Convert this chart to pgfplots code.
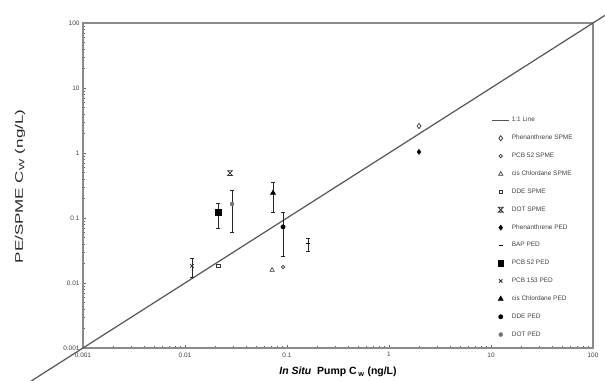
\documentclass[border=0pt]{standalone}
\usepackage{pgfplots}
\pgfplotsset{compat=1.18}
\usepackage{fontspec}
\setmainfont{Liberation Sans}
\usepackage{graphicx}
\definecolor{lnc}{HTML}{555555}
\definecolor{axc}{HTML}{8A8A8A}
\definecolor{mk}{HTML}{333333}
\pgfdeclareplotmark{hourglass}{%
  \pgfpathmoveto{\pgfqpoint{-\pgfplotmarksize}{\pgfplotmarksize}}%
  \pgfpathlineto{\pgfqpoint{\pgfplotmarksize}{\pgfplotmarksize}}%
  \pgfpathlineto{\pgfqpoint{-\pgfplotmarksize}{-\pgfplotmarksize}}%
  \pgfpathlineto{\pgfqpoint{\pgfplotmarksize}{-\pgfplotmarksize}}%
  \pgfpathclose\pgfusepathqstroke}
\begin{document}
\begin{tikzpicture}
\begin{axis}[name=ax, scale only axis, width=510bp, height=325bp,
  xmode=log, ymode=log, xmin=0.001, xmax=100, ymin=0.001, ymax=100,
  clip=false,
  axis line style={draw=axc, line width=1.4bp},
  xtick={0.001,0.01,0.1,1,10,100}, xticklabels={0.001,0.01,0.1,1,10,100},
  ytick={0.001,0.01,0.1,1,10,100}, yticklabels={0.001,0.01,0.1,1,10,100},
  minor xtick={0.002,0.003,0.004,0.005,0.006,0.007,0.008,0.009,0.02,0.03,0.04,0.05,0.06,0.07,0.08,0.09,0.2,0.3,0.4,0.5,0.6,0.7,0.8,0.9,2,3,4,5,6,7,8,9,20,30,40,50,60,70,80,90},
  minor ytick={0.002,0.003,0.004,0.005,0.006,0.007,0.008,0.009,0.02,0.03,0.04,0.05,0.06,0.07,0.08,0.09,0.2,0.3,0.4,0.5,0.6,0.7,0.8,0.9,2,3,4,5,6,7,8,9,20,30,40,50,60,70,80,90},
  xtick pos=left, ytick pos=left, tick align=inside,
  major tick length=3bp, minor tick length=2bp,
  tick style={draw=black!60, line width=0.6bp},
  ticklabel style={font=\fontsize{6.5}{7.5}\selectfont, text=black!75},
  /pgf/number format/assume math mode=true,
  xticklabel style={yshift=-1bp},
  xlabel={\textbf{\textit{In Situ}\ \ Pump C\,\textsubscript{w} (ng/L)}},
  xlabel style={at={(axis description cs:0.5,-0.074)}, anchor=center, font=\fontsize{10.5}{12}\selectfont},
  ylabel={\scalebox{1.55}[1]{PE/SPME C\textsubscript{W} (ng/L)}},
  ylabel style={at={(axis description cs:-0.1235,0.497)}, anchor=center, font=\fontsize{11}{13}\selectfont, text=black!85},
  legend style={at={(rel axis cs:0.795,0.723)}, anchor=north west, draw=none, fill=none,
    font=\fontsize{6.5}{7}\selectfont, text=black!75, row sep=7.8bp},
  legend cell align=left,
]
% 1:1 line
\addplot[lnc, line width=1.2bp] coordinates {(0.0003,0.0003) (140,140)};
\addlegendentry{1:1 Line}
% error bars
\addplot[black!85, line width=0.7bp, mark=-, mark size=2.2bp, forget plot] coordinates {(0.161,0.031) (0.161,0.049)};
\addplot[black!85, line width=0.7bp, mark=-, mark size=2.2bp, forget plot] coordinates {(0.0211,0.070) (0.0211,0.170)};
\addplot[black!85, line width=0.7bp, mark=-, mark size=2.2bp, forget plot] coordinates {(0.0117,0.0124) (0.0117,0.0243)};
\addplot[black!85, line width=0.7bp, mark=-, mark size=2.2bp, forget plot] coordinates {(0.073,0.124) (0.073,0.358)};
\addplot[black!85, line width=0.7bp, mark=-, mark size=2.2bp, forget plot] coordinates {(0.0914,0.026) (0.0914,0.124)};
\addplot[black!85, line width=0.7bp, mark=-, mark size=2.2bp, forget plot] coordinates {(0.0289,0.061) (0.0289,0.27)};
% markers
\addplot[only marks, mark=diamond, mark size=2.6bp, mark options={draw=mk, fill=white, line width=0.7bp}] coordinates {(1.97,2.6)};
\addlegendentry{Phenanthrene SPME}
\addplot[only marks, mark=o, mark size=1.7bp, mark options={draw=mk, fill=white, line width=0.7bp}] coordinates {(0.0914,0.0176)};
\addlegendentry{PCB 52 SPME}
\addplot[only marks, mark=triangle, mark size=2.5bp, mark options={draw=mk, fill=white, line width=0.6bp}] coordinates {(0.0714,0.0158)};
\addlegendentry{cis Chlordane SPME}
\addplot[only marks, mark=square, mark size=1.8bp, mark options={draw=mk, fill=white, line width=0.6bp}] coordinates {(0.0211,0.0183)};
\addlegendentry{DDE SPME}
\addplot[only marks, mark=hourglass, mark size=2.4bp, mark options={draw=mk, line width=0.8bp}] coordinates {(0.0276,0.49)};
\addlegendentry{DOT SPME}
\addplot[only marks, mark=diamond*, mark size=2.6bp, mark options={draw=black, fill=black}] coordinates {(1.97,1.04)};
\addlegendentry{Phenanthrene PED}
\addplot[only marks, mark=-, mark size=2.2bp, mark options={draw=black, line width=0.9bp}] coordinates {(0.161,0.04)};
\addlegendentry{BAP PED}
\addplot[only marks, mark=square*, mark size=2.8bp, mark options={draw=black, fill=black}] coordinates {(0.0211,0.124)};
\addlegendentry{PCB 52 PED}
\addplot[only marks, mark=x, mark size=2.4bp, mark options={draw=mk, line width=0.8bp}] coordinates {(0.0117,0.0183)};
\addlegendentry{PCB 153 PED}
\addplot[only marks, mark=triangle*, mark size=3bp, mark options={draw=black, fill=black}] coordinates {(0.073,0.243)};
\addlegendentry{cis Chlordane PED}
\addplot[only marks, mark=*, mark size=2.2bp, mark options={draw=black, fill=black}] coordinates {(0.0914,0.073)};
\addlegendentry{DDE PED}
\addplot[only marks, mark=*, mark size=2bp, mark options={draw=black!55, fill=black!55}] coordinates {(0.0289,0.164)};
\addlegendentry{DOT PED}
\end{axis}
\pgfresetboundingbox
\path[use as bounding box] ([xshift=-83bp,yshift=-33bp]ax.south west) rectangle ([xshift=12bp,yshift=23bp]ax.north east);
\end{tikzpicture}
\end{document}
